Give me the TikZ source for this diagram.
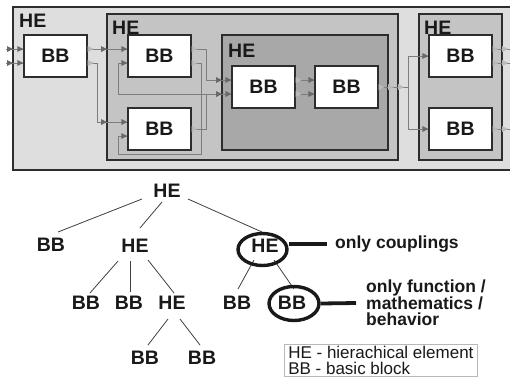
\documentclass[tikz,border=0pt]{standalone}
\usepackage{fontspec}
\setmainfont{Liberation Sans}
\usetikzlibrary{shapes.geometric,calc}
\definecolor{heA}{RGB}{222,222,222}
\definecolor{heB}{RGB}{196,196,196}
\definecolor{heC}{RGB}{168,168,168}
\definecolor{framec}{RGB}{45,45,45}
\definecolor{wirec}{RGB}{125,125,125}
\definecolor{inpc}{RGB}{105,105,105}
\definecolor{outpc}{RGB}{185,185,185}
\definecolor{txt}{RGB}{25,25,25}
\newcommand\portin[1]{\fill[inpc] ($(#1)+(-6,-3)$) -- (#1) -- ($(#1)+(-6,3)$) -- cycle;}
\newcommand\portout[1]{\fill[outpc] ($(#1)+(0,-3)$) -- ($(#1)+(6,0)$) -- ($(#1)+(0,3)$) -- cycle;}
\begin{document}
\begin{tikzpicture}[x=1pt,y=-1pt,
  hebox/.style={draw=framec,line width=1.6pt},
  bbbox/.style={draw=framec,line width=1.4pt,fill=white,minimum width=63pt,minimum height=42pt,inner sep=0pt,font=\fontsize{19.5}{21}\selectfont\bfseries,text=txt},
  helabel/.style={anchor=base west,inner sep=0pt,font=\fontsize{19.5}{21}\selectfont\bfseries,text=txt},
  wire/.style={draw=wirec,line width=0.8pt},
  tlab/.style={font=\fontsize{19.5}{21}\selectfont\bfseries,text=txt,inner sep=0pt},
  tedge/.style={draw=black!75,line width=0.8pt},
  ring/.style={draw=txt,line width=3.4pt,ellipse,inner sep=0pt},
  note/.style={font=\fontsize{17.5}{16.5}\selectfont\bfseries,text=txt,inner sep=0pt,align=left},
  thick line/.style={draw=txt,line width=3.8pt},
]
\fill[white] (0,0) rectangle (510,389);
\useasboundingbox (0,0) rectangle (510,389);

% hierarchical elements
\draw[hebox,fill=heA] (13,7) rectangle (520,170);
\draw[hebox,fill=heB] (107,14) rectangle (398,160);
\draw[hebox,fill=heC] (222,35) rectangle (388,150);
\draw[hebox,fill=heB] (419,14) rectangle (502,160);
\node[helabel] (h0) at (19,27) {HE};
\node[helabel] (h1) at (112,34) {HE};
\node[helabel] (h2) at (228,57) {HE};
\node[helabel] (h3) at (424,34) {HE};

% basic blocks
\node[bbbox] (b1) at (55.5,56) {BB};
\node[bbbox] (b2) at (159.5,56) {BB};
\node[bbbox] (b3) at (159.5,129) {BB};
\node[bbbox] (b4) at (263.5,87) {BB};
\node[bbbox] (b5) at (346.5,87) {BB};
\node[bbbox] (b6) at (460.5,56) {BB};
\node[bbbox] (b7) at (460.5,129) {BB};

% ports
\coordinate (b1i1) at ($(b1.west)+(0,-7)$);
\coordinate (b1i2) at ($(b1.west)+(0,7)$);
\coordinate (b1o1) at ($(b1.east)+(0,-7)$);
\coordinate (b1o2) at ($(b1.east)+(0,7)$);
\coordinate (b2i1) at ($(b2.west)+(0,-7)$);
\coordinate (b2i2) at ($(b2.west)+(0,7)$);
\coordinate (b2o1) at ($(b2.east)+(0,-7)$);
\coordinate (b2o2) at ($(b2.east)+(0,7)$);
\coordinate (b3i1) at ($(b3.west)+(0,-7)$);
\coordinate (b3i2) at ($(b3.west)+(0,7)$);
\coordinate (b3o) at (b3.east);
\coordinate (b4i1) at ($(b4.west)+(0,-7)$);
\coordinate (b4i2) at ($(b4.west)+(0,7)$);
\coordinate (b4o1) at ($(b4.east)+(0,-7)$);
\coordinate (b4o2) at ($(b4.east)+(0,7)$);
\coordinate (b5i1) at ($(b5.west)+(0,-7)$);
\coordinate (b5i2) at ($(b5.west)+(0,7)$);
\coordinate (b5o) at (b5.east);
\coordinate (b6i) at (b6.west);
\coordinate (b6o1) at ($(b6.east)+(0,-7)$);
\coordinate (b6o2) at ($(b6.east)+(0,7)$);
\coordinate (b7i) at (b7.west);
\coordinate (b7o) at (b7.east);
\coordinate (s1) at (6,49);
\coordinate (s2) at (6,63);
\coordinate (e1) at (514,49);
\coordinate (e2) at (514,63);
\coordinate (e3) at (514,129);
\coordinate (r97) at (97,0);
\coordinate (r206) at (206,0);
\coordinate (c201) at (201,154);
\coordinate (c118) at (118,154);
\coordinate (r118) at (118,0);
\coordinate (r408) at (408,87);

% wires
\draw[wire] (s1) -- (b1i1);
\draw[wire] (s2) -- (b1i2);
\draw[wire] (b1o1) -- (b2i1);
\draw[wire] (b1o2) -| (r97 |- b3i1) -- (b3i1);
\draw[wire] (b2o1) -| (r206 |- b4i1) -- (b4i1);
\draw[wire] (b2o2) -| (c201) -- (c118) |- (b3i2);
\draw[wire] (b3o) -| (r206 |- b4i2);
\draw[wire] (b2i2) -| (r118 |- b4i2) -- (b4i2);
\draw[wire] (b4o1) -- (b5i1);
\draw[wire] (b4o2) -- (b5i2);
\draw[wire] (b5o) -- (r408);
\draw[wire] (r408) |- (b6i);
\draw[wire] (r408) |- (b7i);
\draw[wire] (b6o1) -- (e1);
\draw[wire] (b6o2) -- (e2);
\draw[wire] (b7o) -- (e3);

% input port markers
\portin{13,49} \portin{13,63}
\portin{b1i1} \portin{b1i2}
\portin{107,49} \portin{107,122}
\portin{b2i1} \portin{b2i2} \portin{b3i1} \portin{b3i2}
\portin{222,80} \portin{222,94}
\portin{b4i1} \portin{b4i2} \portin{b5i1} \portin{b5i2}
\portin{b6i} \portin{b7i}
% output port markers
\portout{b1o1} \portout{b1o2} \portout{b2o1} \portout{b2o2} \portout{b3o}
\portout{b4o1} \portout{b4o2} \portout{b5o}
\portout{388,87} \portout{398,87}
\portout{b6o1} \portout{b6o2} \portout{b7o}
\portout{502,49} \portout{502,63} \portout{502,129}

% tree
\node[tlab] (t0) at (167,191) {HE};
\node[tlab] (t1) at (51,245) {BB};
\node[tlab] (t2) at (135,246) {HE};
\node[tlab] (t3) at (265,246) {HE};
\node[tlab] (t21) at (86,303) {BB};
\node[tlab] (t22) at (129,303) {BB};
\node[tlab] (t23) at (172,303) {HE};
\node[tlab] (t31) at (237,303) {BB};
\node[tlab] (t32) at (292,303) {BB};
\node[tlab] (t231) at (145,358) {BB};
\node[tlab] (t232) at (202,358) {BB};

\draw[tedge] ([shift={(-25,8)}]t0.center) -- ([shift={(7,-13)}]t1.center);
\draw[tedge] ([shift={(-5,11)}]t0.center) -- ([shift={(5,-18)}]t2.center);
\draw[tedge] ([shift={(21,8)}]t0.center) -- ([shift={(-3,-14)}]t3.center);
\draw[tedge] ([shift={(-17,15)}]t2.center) -- ([shift={(4,-10)}]t21.center);
\draw[tedge] ([shift={(-5,15)}]t2.center) -- ([shift={(1,-11)}]t22.center);
\draw[tedge] ([shift={(13,14)}]t2.center) -- ([shift={(2,-10)}]t23.center);
\draw[tedge] ([shift={(-4,16)}]t23.center) -- ([shift={(3,-13)}]t231.center);
\draw[tedge] ([shift={(8,16)}]t23.center) -- ([shift={(-2,-13)}]t232.center);
\draw[tedge] ([shift={(-11,14)}]t3.center) -- ([shift={(1,-14)}]t31.center);
\draw[tedge] ([shift={(9,14)}]t3.center) -- ([shift={(2,-14)}]t32.center);

\node[ring,minimum width=49pt,minimum height=32pt] (c3) at (262.5,249.5) {};
\node[ring,minimum width=50pt,minimum height=34pt] (c32) at (294,303.5) {};

\node[note,anchor=west] (n1) at (335,244) {only couplings};
\node[note,anchor=west] (n2) at (366,303) {only function /\\mathematics /\\behavior};
\draw[thick line] (c3.east |- n1.west) -- ([xshift=-8pt]n1.west);
\draw[thick line] (c32.east) -- ([xshift=-10pt]n2.west);

\node[draw=black!28,line width=0.6pt,inner xsep=4pt,inner ysep=2pt,align=left,anchor=north west,
  font=\fontsize{17}{16}\selectfont,text=txt] (leg) at (284,344) {HE - hierachical element\\BB - basic block};
\end{tikzpicture}
\end{document}
